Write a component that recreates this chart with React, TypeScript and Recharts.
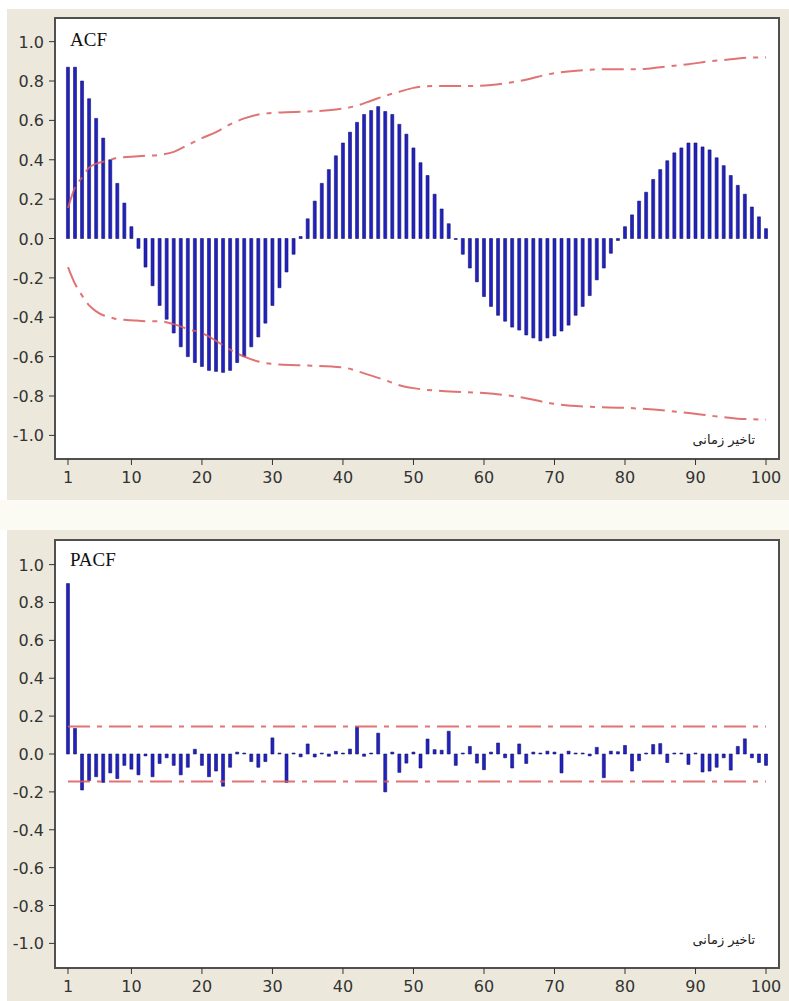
import React from "react";
import {
  ComposedChart,
  Bar,
  Line,
  XAxis,
  YAxis,
  CartesianGrid,
  ReferenceArea,
} from "recharts";

// lags 1..100
const lags = Array.from({ length: 100 }, (_, i) => i + 1);

const acfValues = [
  0.87, 0.87, 0.8, 0.71, 0.61, 0.51, 0.4, 0.28, 0.18, 0.06,
  -0.05, -0.145, -0.24, -0.34, -0.41, -0.48, -0.55, -0.6, -0.63, -0.65,
  -0.67, -0.675, -0.68, -0.67, -0.63, -0.6, -0.55, -0.5, -0.43, -0.34,
  -0.25, -0.17, -0.08, 0.01, 0.1, 0.19, 0.28, 0.35, 0.42, 0.485,
  0.54, 0.59, 0.63, 0.65, 0.67, 0.645, 0.63, 0.58, 0.53, 0.46,
  0.385, 0.32, 0.225, 0.15, 0.075, -0.005, -0.08, -0.15, -0.22, -0.295,
  -0.345, -0.39, -0.42, -0.45, -0.465, -0.49, -0.505, -0.52, -0.505, -0.495,
  -0.47, -0.44, -0.39, -0.345, -0.29, -0.21, -0.15, -0.075, -0.01, 0.06,
  0.12, 0.19, 0.235, 0.3, 0.35, 0.395, 0.435, 0.46, 0.485, 0.485,
  0.465, 0.45, 0.41, 0.37, 0.32, 0.27, 0.225, 0.16, 0.11, 0.05,
];

const pacfValues = [
  0.9, 0.135, -0.19, -0.14, -0.12, -0.15, -0.1, -0.13, -0.06, -0.08,
  -0.11, -0.01, -0.12, -0.05, -0.02, -0.06, -0.11, -0.07, 0.025, -0.06,
  -0.12, -0.09, -0.17, -0.07, 0.01, 0.005, -0.04, -0.07, -0.04, 0.085,
  0.005, -0.15, 0.005, -0.015, 0.053, -0.016, 0.005, -0.012, 0.014, 0.005,
  0.026, 0.143, -0.012, 0.005, 0.11, -0.2, 0.01, -0.097, -0.048, 0.01,
  -0.074, 0.079, 0.023, 0.02, 0.12, -0.06, 0.005, 0.04, -0.048, -0.083,
  0.01, 0.058, -0.02, -0.074, 0.053, -0.05, 0.01, 0.005, 0.015, 0.01,
  -0.1, 0.015, 0.005, 0.005, -0.01, 0.035, -0.125, 0.015, 0.012, 0.045,
  -0.09, -0.035, 0.005, 0.05, 0.055, -0.045, 0.005, 0.005, -0.055, 0.005,
  -0.095, -0.09, -0.07, -0.02, -0.085, 0.04, 0.08, -0.02, -0.045, -0.06,
];

// confidence band of the ACF, read at selected lags
const acfUpperLags = [1, 2, 3, 4, 5, 6, 7, 8, 10, 12, 14, 16, 18, 20, 22, 24, 26, 28, 31, 35, 39, 42, 44, 46, 48, 50, 53, 58, 61, 65, 70, 74, 78, 82, 85, 89, 92, 95, 98, 100];
const acfUpperValues = [0.155, 0.26, 0.31, 0.36, 0.38, 0.39, 0.4, 0.41, 0.415, 0.42, 0.425, 0.44, 0.475, 0.51, 0.54, 0.58, 0.61, 0.63, 0.64, 0.645, 0.655, 0.675, 0.7, 0.725, 0.745, 0.765, 0.775, 0.775, 0.78, 0.8, 0.84, 0.855, 0.86, 0.86, 0.87, 0.885, 0.9, 0.91, 0.92, 0.92];
const acfLowerLags = [1, 2, 3, 4, 5, 6, 7, 8, 10, 12, 14, 16, 18, 20, 22, 24, 26, 28, 31, 35, 40, 43, 46, 48, 50, 54, 60, 65, 70, 75, 80, 86, 91, 96, 100];
const acfLowerValues = [-0.145, -0.23, -0.29, -0.34, -0.37, -0.39, -0.4, -0.41, -0.415, -0.42, -0.42, -0.435, -0.46, -0.48, -0.52, -0.565, -0.6, -0.625, -0.64, -0.645, -0.655, -0.685, -0.72, -0.745, -0.76, -0.775, -0.785, -0.805, -0.84, -0.855, -0.86, -0.875, -0.895, -0.915, -0.92];

// PACF band
const pacfBandLags = [1, 100];
const pacfBandLimit = 0.145;

const xTicks = [1, 10, 20, 30, 40, 50, 60, 70, 80, 90, 100];
const yTicks = [1, 0.8, 0.6, 0.4, 0.2, 0, -0.2, -0.4, -0.6, -0.8, -1];

const acfData = lags.map((lag, i) => ({ lag, value: acfValues[i] }));
const pacfData = lags.map((lag, i) => ({ lag, value: pacfValues[i] }));
const acfUpper = acfUpperLags.map((lag, i) => ({ lag, band: acfUpperValues[i] }));
const acfLower = acfLowerLags.map((lag, i) => ({ lag, band: acfLowerValues[i] }));
const pacfUpper = pacfBandLags.map((lag) => ({ lag, band: pacfBandLimit }));
const pacfLower = pacfBandLags.map((lag) => ({ lag, band: -pacfBandLimit }));

const X_DOMAIN: [number, number] = [-0.84, 101.84];
const BEIGE = "#ece9dc";
const FRAME = "#505050";
const BAR_FILL = "#2222c0";
const BAR_EDGE = "#121270";
const BAND = "#dc5a5a";
const LAG_LABEL = "تاخیر زمانی";

const FONT = "DejaVu Sans";

function XTick(props: any) {
  const { x, y, payload } = props;
  return (
    <text x={x} y={y + 14} textAnchor="middle" fill="#333" fontSize={16} fontFamily={FONT}>
      {payload.value}
    </text>
  );
}

function YTick(props: any) {
  const { x, y, payload } = props;
  return (
    <text x={x} y={y + 6} textAnchor="end" fill="#333" fontSize={16} fontFamily={FONT}>
      {Number(payload.value).toFixed(1)}
    </text>
  );
}

function Panel({
  data,
  upper,
  lower,
  yDomain,
  height,
  margin,
}: {
  data: { lag: number; value: number }[];
  upper: { lag: number; band: number }[];
  lower: { lag: number; band: number }[];
  yDomain: [number, number];
  height: number;
  margin: { top: number; right: number; bottom: number; left: number };
}) {
  return (
    <ComposedChart width={789} height={height} data={data} margin={margin}>
      <CartesianGrid horizontal={false} vertical={false} fill="#fff" fillOpacity={1} />
      <XAxis
        dataKey="lag"
        type="number"
        domain={X_DOMAIN}
        ticks={xTicks}
        interval={0}
        allowDataOverflow
        height={30}
        tick={<XTick />}
        tickSize={6}
        tickMargin={4}
        axisLine={{ stroke: FRAME, strokeWidth: 2 }}
        tickLine={{ stroke: "#333" }}
      />
      <YAxis
        type="number"
        domain={yDomain}
        ticks={yTicks}
        interval={0}
        allowDataOverflow
        width={55}
        tick={<YTick />}
        tickSize={6}
        tickMargin={5}
        axisLine={{ stroke: FRAME, strokeWidth: 2 }}
        tickLine={{ stroke: "#333" }}
      />
      <ReferenceArea
        x1={X_DOMAIN[0]}
        x2={X_DOMAIN[1]}
        y1={yDomain[0]}
        y2={yDomain[1]}
        fill="none"
        stroke={FRAME}
        strokeWidth={2}
      />
      <Line
        data={upper}
        dataKey="band"
        type="monotone"
        stroke={BAND}
        strokeWidth={2}
        strokeOpacity={0.85}
        strokeDasharray="22 7 5 7"
        dot={false}
        isAnimationActive={false}
      />
      <Line
        data={lower}
        dataKey="band"
        type="monotone"
        stroke={BAND}
        strokeWidth={2}
        strokeOpacity={0.85}
        strokeDasharray="22 7 5 7"
        dot={false}
        isAnimationActive={false}
      />
      <Bar
        dataKey="value"
        barSize={3}
        fill={BAR_FILL}
        stroke={BAR_EDGE}
        strokeWidth={0.6}
        isAnimationActive={false}
      />
    </ComposedChart>
  );
}

export default function App() {
  return (
    <div style={{ position: "relative", width: 789, height: 1001, background: "#fff" }}>
      <style>{`body{margin:0;background:#fff}`}</style>
      <div style={{ position: "absolute", left: 7, top: 9, width: 782, height: 491, background: BEIGE }} />
      <div style={{ position: "absolute", left: 0, top: 500, width: 789, height: 30, background: "#fbfbf4" }} />
      <div style={{ position: "absolute", left: 7, top: 530, width: 782, height: 471, background: BEIGE }} />

      <div style={{ position: "absolute", left: 0, top: 0 }}>
        <Panel
          data={acfData}
          upper={acfUpper}
          lower={acfLower}
          yDomain={[-1.12, 1.12]}
          height={500}
          margin={{ top: 18, right: 10, bottom: 11, left: 0 }}
        />
      </div>
      <div style={{ position: "absolute", left: 0, top: 510 }}>
        <Panel
          data={pacfData}
          upper={pacfUpper}
          lower={pacfLower}
          yDomain={[-1.13, 1.13]}
          height={490}
          margin={{ top: 30, right: 10, bottom: 2, left: 0 }}
        />
      </div>

      <div style={{ position: "absolute", left: 70, top: 29, fontFamily: "Liberation Serif", fontSize: 19, color: "#111" }}>
        ACF
      </div>
      <div style={{ position: "absolute", left: 70, top: 549, fontFamily: "Liberation Serif", fontSize: 19, color: "#111" }}>
        PACF
      </div>
      <div dir="rtl" style={{ position: "absolute", right: 789 - 755, top: 432, fontFamily: FONT, fontSize: 13, color: "#222" }}>
        {LAG_LABEL}
      </div>
      <div dir="rtl" style={{ position: "absolute", right: 789 - 755, top: 932, fontFamily: FONT, fontSize: 13, color: "#222" }}>
        {LAG_LABEL}
      </div>
    </div>
  );
}
